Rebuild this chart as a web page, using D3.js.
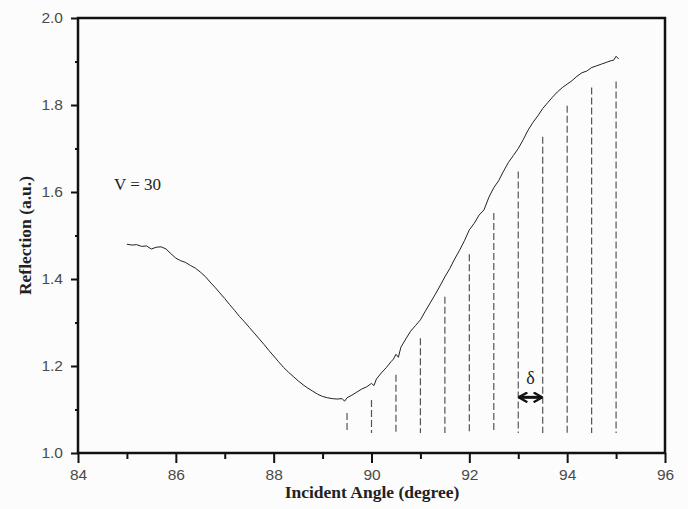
<!DOCTYPE html>
<html>
<head>
<meta charset="utf-8">
<script src="https://cdn.jsdelivr.net/npm/d3@7"></script>
<style>
  body { margin: 0; background: #fcfcfc; }
  svg { display: block; }
</style>
</head>
<body>
<div id="chart"></div>
<script>
// reflection curve (angle in degree, reflection in a.u.)
const angle = [85.0, 85.1, 85.2, 85.3, 85.4, 85.5, 85.6, 85.7, 85.8, 85.9,
  86.0, 86.1, 86.2, 86.3, 86.4, 86.5, 86.6, 86.7, 86.8, 86.9,
  87.0, 87.1, 87.2, 87.3, 87.4, 87.5, 87.6, 87.7, 87.8, 87.9,
  88.0, 88.1, 88.2, 88.3, 88.4, 88.5, 88.6, 88.7, 88.8, 88.9,
  89.0, 89.1, 89.2, 89.3, 89.4, 89.45, 89.5, 89.6, 89.7, 89.8, 89.9,
  90.0, 90.05, 90.1, 90.2, 90.3, 90.4, 90.45, 90.5, 90.55, 90.6, 90.7, 90.8, 90.9,
  91.0, 91.1, 91.2, 91.3, 91.4, 91.5, 91.6, 91.7, 91.8, 91.9,
  92.0, 92.1, 92.2, 92.3, 92.4, 92.5, 92.6, 92.7, 92.8, 92.9,
  93.0, 93.1, 93.2, 93.3, 93.4, 93.5, 93.6, 93.7, 93.8, 93.9,
  94.0, 94.1, 94.2, 94.3, 94.4, 94.5, 94.6, 94.7, 94.8, 94.9, 94.95, 95.0, 95.05]
const reflection = [1.480, 1.478, 1.479, 1.475, 1.476, 1.469, 1.473, 1.474, 1.469, 1.458,
  1.448, 1.442, 1.438, 1.431, 1.425, 1.416, 1.406, 1.393, 1.381, 1.368,
  1.355, 1.341, 1.328, 1.314, 1.302, 1.289, 1.276, 1.263, 1.250, 1.236,
  1.223, 1.210, 1.197, 1.186, 1.176, 1.166, 1.157, 1.149, 1.142, 1.135,
  1.130, 1.127, 1.125, 1.124, 1.125, 1.119, 1.127, 1.133, 1.140, 1.147, 1.152,
  1.160, 1.155, 1.170, 1.184, 1.196, 1.210, 1.216, 1.227, 1.220, 1.243, 1.262, 1.280, 1.293,
  1.306, 1.326, 1.345, 1.364, 1.384, 1.405, 1.424, 1.446, 1.466, 1.488,
  1.513, 1.528, 1.547, 1.559, 1.588, 1.610, 1.626, 1.648, 1.668, 1.684,
  1.700, 1.720, 1.742, 1.760, 1.775, 1.792, 1.805, 1.818, 1.830, 1.840,
  1.848, 1.856, 1.866, 1.874, 1.878, 1.886, 1.890, 1.894, 1.898, 1.902, 1.903, 1.912, 1.906]

// dashed markers: angle and the height each one reaches
const markAngle = [89.5, 90.0, 90.5, 91.0, 91.5, 92.0, 92.5, 93.0, 93.5, 94.0, 94.5, 95.0]
const markTop   = [1.092, 1.122, 1.180, 1.264, 1.359, 1.457, 1.552, 1.647, 1.727, 1.798, 1.840, 1.854]
const markBase  = 1.046

const xTicks = [84, 86, 88, 90, 92, 94, 96]
const yTicks = [1.0, 1.2, 1.4, 1.6, 1.8, 2.0]

const width  = 688,
      height = 509,
      margin = { top: 18, right: 23, bottom: 56, left: 78 }

const svg = d3.select('#chart')
  .append('svg')
  .attr('width', width)
  .attr('height', height)

const x = d3.scaleLinear().domain([84, 96]).range([margin.left, width - margin.right])
const y = d3.scaleLinear().domain([1.0, 2.0]).range([height - margin.bottom, margin.top])

// x axis, major + minor ticks
svg.append('g')
  .attr('transform', `translate(0,${y(1.0)})`)
  .call(d3.axisBottom(x).tickValues(xTicks).tickFormat(d3.format('d')).tickSize(10).tickPadding(6))
svg.append('g')
  .attr('transform', `translate(0,${y(1.0)})`)
  .call(d3.axisBottom(x).tickValues(d3.range(85, 96, 2)).tickFormat('').tickSize(6))

// y axis, major + minor ticks
svg.append('g')
  .attr('transform', `translate(${x(84)},0)`)
  .call(d3.axisLeft(y).tickValues(yTicks).tickFormat(d3.format('.1f')).tickSize(7).tickPadding(8))
svg.append('g')
  .attr('transform', `translate(${x(84)},0)`)
  .call(d3.axisLeft(y).tickValues([1.1, 1.3, 1.5, 1.7, 1.9]).tickFormat('').tickSize(3))

svg.selectAll('.domain').remove()
svg.selectAll('.tick line').attr('stroke', '#111').attr('stroke-width', 2)
svg.selectAll('.tick text')
  .attr('fill', '#4a4a4a')
  .style('font-family', 'Liberation Sans, Arial, sans-serif')
  .style('font-size', '15.5px')

// frame
svg.append('rect')
  .attr('x', x(84))
  .attr('y', y(2.0))
  .attr('width', x(96) - x(84))
  .attr('height', y(1.0) - y(2.0))
  .attr('fill', 'none')
  .attr('stroke', '#111')
  .attr('stroke-width', 2.5)

// dashed markers
svg.append('g')
  .selectAll('line')
  .data(markAngle)
  .enter()
  .append('line')
    .attr('x1', d => x(d))
    .attr('x2', d => x(d))
    .attr('y1', (d, i) => y(markTop[i]))
    .attr('y2', y(markBase))
    .attr('stroke', '#555')
    .attr('stroke-width', 1.2)
    .attr('stroke-dasharray', '7,3')

// curve
const line = d3.line()
  .x(d => x(d[0]))
  .y(d => y(d[1]))

svg.append('path')
  .datum(d3.zip(angle, reflection))
  .attr('d', line)
  .attr('fill', 'none')
  .attr('stroke', '#222')
  .attr('stroke-width', 1)

// delta arrow between 93 and 93.5
const defs = svg.append('defs')
defs.append('marker')
  .attr('id', 'head')
  .attr('viewBox', '0 0 10 10')
  .attr('refX', 8.5)
  .attr('refY', 5)
  .attr('markerWidth', 3.6)
  .attr('markerHeight', 3.6)
  .attr('orient', 'auto-start-reverse')
  .append('path')
    .attr('d', 'M1,0.5 L9,5 L1,9.5')
    .attr('fill', 'none')
    .attr('stroke', '#111')
    .attr('stroke-width', 2.2)

svg.append('line')
  .attr('x1', x(93) + 1)
  .attr('x2', x(93.5) - 1)
  .attr('y1', y(1.128))
  .attr('y2', y(1.128))
  .attr('stroke', '#111')
  .attr('stroke-width', 3)
  .attr('marker-start', 'url(#head)')
  .attr('marker-end', 'url(#head)')

svg.append('text')
  .attr('x', x(93.25))
  .attr('y', y(1.158))
  .attr('text-anchor', 'middle')
  .style('font-family', 'Liberation Serif, Times New Roman, serif')
  .style('font-size', '18px')
  .attr('fill', '#222')
  .text('δ')

// annotation
svg.append('text')
  .attr('x', 114)
  .attr('y', 190)
  .style('font-family', 'Liberation Serif, Times New Roman, serif')
  .style('font-size', '17px')
  .attr('fill', '#222')
  .text('V = 30')

// axis titles
svg.append('text')
  .attr('x', 372)
  .attr('y', 498)
  .attr('text-anchor', 'middle')
  .style('font-family', 'Liberation Serif, Times New Roman, serif')
  .style('font-size', '17.5px')
  .style('font-weight', 'bold')
  .attr('fill', '#222')
  .text('Incident Angle (degree)')

svg.append('text')
  .attr('transform', `translate(31,${(y(1.0) + y(2.0)) / 2}) rotate(-90)`)
  .attr('text-anchor', 'middle')
  .style('font-family', 'Liberation Serif, Times New Roman, serif')
  .style('font-size', '17.5px')
  .style('font-weight', 'bold')
  .attr('fill', '#222')
  .text('Reflection (a.u.)')
</script>
</body>
</html>
